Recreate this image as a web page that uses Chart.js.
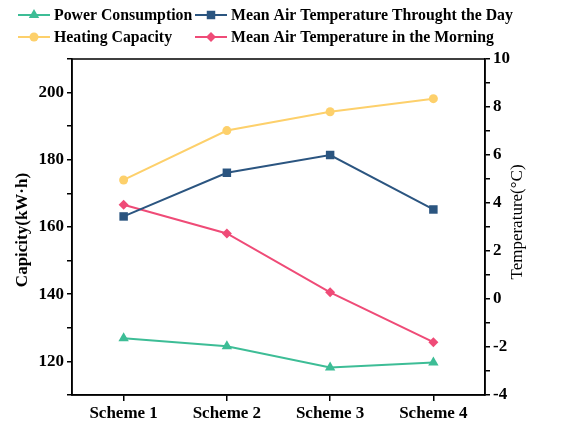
<!DOCTYPE html>
<html lang="en">
<head>
  <meta charset="UTF-8" />
  <title>Capacity and Temperature by Scheme</title>
  <script src="https://cdn.jsdelivr.net/npm/chart.js"></script>
  <style>
    body { margin: 0; background: #fff; }
    .wrap { width: 576px; height: 421px; }
  </style>
</head>
<body>
  <div class="wrap"><canvas id="chart" width="576" height="421"></canvas></div>
  <script>
    const schemes = ['Scheme 1', 'Scheme 2', 'Scheme 3', 'Scheme 4'];
    const powerConsumption = [126.9, 124.5, 118.2, 119.7];
    const heatingCapacity = [174.0, 188.7, 194.3, 198.2];
    const meanTempDay = [3.44, 5.26, 6.0, 3.73];
    const meanTempMorning = [3.93, 2.73, 0.28, -1.8];

    const serif = "'Liberation Serif', 'Times New Roman', serif";

    // legend in two fixed columns, plus axis titles and the frame
    const extras = {
      id: 'extras',
      afterDraw(chart) {
        const ctx = chart.ctx;
        const a = chart.chartArea;
        ctx.save();
        ctx.strokeStyle = '#000';
        ctx.lineWidth = 1.5;
        ctx.strokeRect(a.left, a.top, a.right - a.left, a.bottom - a.top);

        const slots = [[18, 15], [195, 15], [18, 37], [195, 37]];
        chart.data.datasets.forEach((ds, i) => {
          const [x, y] = slots[i];
          ctx.strokeStyle = ds.borderColor;
          ctx.lineWidth = 2;
          ctx.beginPath();
          ctx.moveTo(x, y);
          ctx.lineTo(x + 32, y);
          ctx.stroke();
          ctx.fillStyle = ds.backgroundColor;
          Chart.helpers.drawPoint(ctx, { pointStyle: ds.pointStyle, radius: ds.pointRadius, borderWidth: 0 }, x + 16, y);
          ctx.fillStyle = '#000';
          ctx.font = 'bold 15.8px ' + serif;
          ctx.textBaseline = 'middle';
          ctx.textAlign = 'left';
          ctx.fillText(ds.label, x + 36, y + 1);
        });

        ctx.fillStyle = '#000';
        ctx.textAlign = 'center';
        ctx.textBaseline = 'middle';
        ctx.save();
        ctx.translate(23, 230);
        ctx.rotate(-Math.PI / 2);
        ctx.font = 'bold 17px ' + serif;
        ctx.fillText('Capicity(kW·h)', 0, 0);
        ctx.restore();
        ctx.save();
        ctx.translate(518, 222);
        ctx.rotate(-Math.PI / 2);
        ctx.font = '17px ' + serif;
        ctx.fillText('Temperature(°C)', 0, 0);
        ctx.restore();
        ctx.restore();
      }
    };

    const tickFont = { family: serif, size: 17, weight: 'bold' };

    new Chart(document.getElementById('chart'), {
      type: 'line',
      data: {
        labels: schemes,
        datasets: [
          { label: 'Power Consumption', data: powerConsumption, yAxisID: 'y',
            borderColor: '#3dbd96', backgroundColor: '#3dbd96', pointStyle: 'triangle', pointRadius: 6 },
          { label: 'Mean Air Temperature Throught the Day', data: meanTempDay, yAxisID: 'y1',
            borderColor: '#2b5580', backgroundColor: '#2b5580', pointStyle: 'rect', pointRadius: 6 },
          { label: 'Heating Capacity', data: heatingCapacity, yAxisID: 'y',
            borderColor: '#fdd06b', backgroundColor: '#fdd06b', pointStyle: 'circle', pointRadius: 4.5 },
          { label: 'Mean Air Temperature in the Morning', data: meanTempMorning, yAxisID: 'y1',
            borderColor: '#ef4b77', backgroundColor: '#ef4b77', pointStyle: 'rectRot', pointRadius: 5 }
        ]
      },
      options: {
        responsive: false,
        animation: false,
        layout: { padding: { top: 59, left: 0, right: 0, bottom: 0 } },
        elements: { line: { borderWidth: 2, tension: 0 }, point: { borderWidth: 0 } },
        plugins: { legend: { display: false }, tooltip: { enabled: false } },
        scales: {
          x: {
            offset: true,
            grid: { drawOnChartArea: false, offset: false, tickLength: 6, color: '#000', lineWidth: 1.5 },
            border: { color: '#000', width: 1.5 },
            ticks: { color: '#000', font: tickFont, padding: 2 },
            afterFit(s) { s.height = 26; }
          },
          y: {
            position: 'left',
            min: 110, max: 210,
            grid: { drawOnChartArea: false, tickLength: 5, color: '#000', lineWidth: 1.5 },
            border: { color: '#000', width: 1.5 },
            ticks: { stepSize: 10, color: '#000', font: tickFont, padding: 3,
              callback: v => (v % 20 === 0 && v !== 210 && v !== 110) ? v : '' },
            afterFit(s) { s.width = 72; }
          },
          y1: {
            position: 'right',
            min: -4, max: 10,
            grid: { drawOnChartArea: false, tickLength: 5, color: '#000', lineWidth: 1.5 },
            border: { color: '#000', width: 1.5 },
            ticks: { stepSize: 1, color: '#000', font: tickFont, padding: 3,
              callback: v => (v % 2 === 0) ? v : '' },
            afterFit(s) { s.width = 91; }
          }
        }
      },
      plugins: [extras]
    });
  </script>
</body>
</html>
